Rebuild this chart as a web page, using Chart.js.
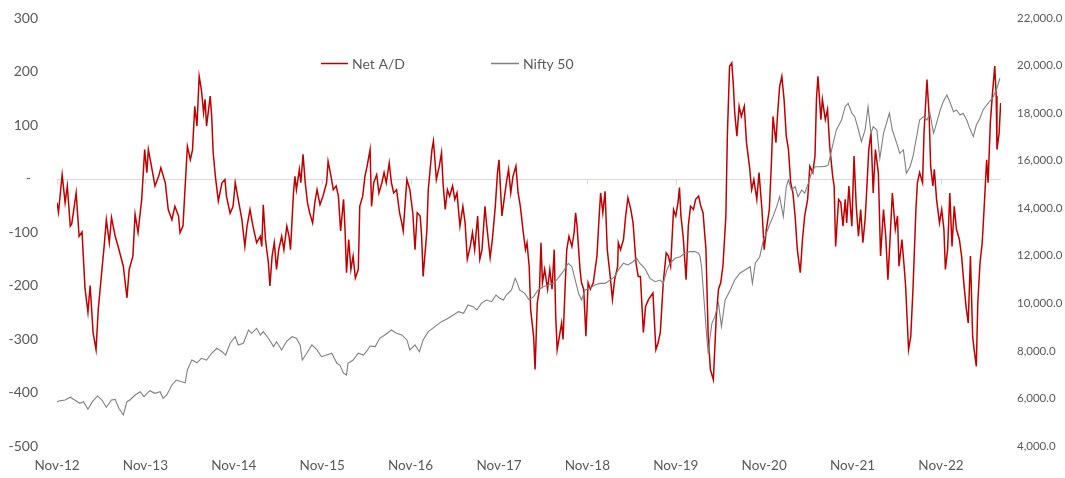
<!DOCTYPE html>
<html><head><meta charset="utf-8">
<script src="https://cdn.jsdelivr.net/npm/chart.js@4.4.1/dist/chart.umd.min.js"></script>
<style>html,body{margin:0;padding:0;background:#fff;}#wrap{width:1065px;height:478px;}</style>
</head><body><div id="wrap"><canvas id="c" width="1065" height="478"></canvas></div>
<script>
// x values: months since Nov-2012
const tickLabels = ['Nov-12','Nov-13','Nov-14','Nov-15','Nov-16','Nov-17','Nov-18','Nov-19','Nov-20','Nov-21','Nov-22'];

const adMonths = [
0.0,0.2,0.7,1.1,1.4,1.8,2.0,2.6,3.0,3.4,
3.8,4.2,4.5,4.9,5.3,5.6,6.1,6.4,6.7,7.1,
7.4,7.9,8.3,9.0,9.5,9.8,10.3,10.6,11.0,11.5,
11.9,12.2,12.4,12.9,13.3,13.8,14.1,14.7,15.1,15.6,
16.0,16.5,16.7,17.1,17.4,17.7,18.1,18.4,18.7,19.0,
19.3,19.6,19.9,20.1,20.3,20.8,21.0,21.2,21.5,21.9,
22.4,22.8,23.0,23.5,23.9,24.2,24.6,25.1,25.5,25.8,
26.2,26.6,27.1,27.6,27.8,28.0,28.3,28.7,28.9,29.2,
29.5,29.8,30.1,30.5,30.8,31.2,31.5,31.7,32.1,32.3,
32.5,32.9,33.1,33.4,33.7,34.0,34.3,34.7,35.0,35.3,
35.7,36.1,36.6,36.8,37.2,37.5,37.9,38.2,38.5,38.9,
39.1,39.3,39.6,39.9,40.2,40.5,40.9,41.1,41.5,41.8,
42.1,42.5,42.7,43.0,43.4,43.7,44.1,44.4,44.7,45.1,
45.4,45.7,46.1,46.5,46.8,47.0,47.3,47.5,47.9,48.3,
48.6,48.9,49.3,49.5,49.7,50.2,50.4,50.9,51.1,51.3,
51.5,51.9,52.2,52.4,52.7,53.0,53.3,53.7,54.0,54.3,
54.7,55.1,55.4,55.7,56.1,56.4,56.7,57.1,57.4,57.7,
58.1,58.3,58.8,59.1,59.5,59.8,60.0,60.4,60.7,61.0,
61.3,61.6,61.9,62.3,62.6,62.9,63.3,63.6,63.8,64.1,
64.3,64.7,64.9,65.2,65.5,65.7,65.9,66.2,66.6,66.9,
67.2,67.5,67.7,67.9,68.2,68.5,68.7,69.0,69.2,69.5,
69.9,70.2,70.4,70.6,71.0,71.2,71.5,71.8,72.1,72.4,
72.8,73.3,73.6,73.8,74.1,74.4,74.7,75.1,75.4,75.7,
76.1,76.2,76.5,76.9,77.2,77.5,77.9,78.2,78.6,78.9,
79.2,79.6,79.9,80.3,80.6,80.9,81.3,81.6,81.9,82.3,
82.7,83.0,83.3,83.7,84.0,84.3,84.5,84.7,85.0,85.4,
85.7,86.0,86.4,86.7,87.1,87.4,87.7,88.1,88.4,88.7,
89.1,89.5,89.8,90.1,90.4,90.8,91.0,91.3,91.6,91.8,
92.0,92.3,92.6,92.9,93.3,93.6,94.0,94.3,94.6,95.0,
95.3,95.7,96.0,96.3,96.7,97.0,97.2,97.6,97.8,98.1,
98.4,98.7,99.0,99.3,99.6,99.9,100.2,100.5,100.9,101.2,
101.5,101.9,102.2,102.6,102.9,103.1,103.3,103.7,103.9,104.3,
104.6,104.9,105.3,105.5,105.7,106.1,106.4,106.7,107.0,107.2,
107.5,107.9,108.2,108.5,108.8,109.1,109.4,109.7,109.9,110.2,
110.5,110.8,111.1,111.5,111.8,112.2,112.5,112.8,113.2,113.4,
113.8,114.1,114.3,114.7,115.0,115.2,115.6,115.9,116.2,116.6,
116.8,117.1,117.5,117.7,118.1,118.4,118.6,118.9,119.1,119.4,
119.8,120.1,120.4,120.6,120.9,121.2,121.5,121.8,122.1,122.5,
122.8,123.1,123.4,123.7,124.0,124.3,124.5,124.8,125.0,125.3,
125.6,125.9,126.2,126.4,126.7,127.0,127.3,127.5,127.6,127.9,
128.1];

const netAD = [
-45,-63,7,-45,-14,-89,-85,-27,-108,-100,
-205,-250,-200,-288,-320,-245,-170,-127,-77,-120,
-73,-108,-127,-164,-223,-170,-145,-67,-101,-39,
54,11,54,17,-14,4,20,-8,-58,-77,
-52,-70,-101,-89,-14,60,35,54,135,98,
191,166,123,148,98,154,116,48,4,-42,
-8,-2,-33,-65,-52,-8,-39,-77,-127,-89,
-58,-89,-120,-108,-127,-49,-114,-158,-201,-145,
-120,-170,-133,-108,-133,-89,-108,-133,-27,4,
-21,17,-8,45,-8,-45,-64,-83,-45,-21,
-49,-33,-8,32,4,-21,-14,-33,-98,-39,
-95,-176,-114,-170,-145,-186,-170,-52,-33,4,
23,54,-52,-8,7,-27,-8,11,-8,29,
-8,-27,-21,-64,-83,-98,-39,-2,-21,-64,
-133,-64,-70,-108,-183,-100,-21,54,70,35,
-2,23,48,-8,-58,-21,-33,-14,-39,-27,
-89,-52,-83,-151,-127,-101,-133,-70,-151,-133,
-52,-83,-148,-114,-52,11,35,-70,-39,-8,
17,-27,4,23,-27,-52,-101,-133,-120,-164,
-245,-295,-357,-232,-207,-120,-195,-170,-207,-170,
-207,-133,-257,-320,-295,-270,-301,-195,-133,-108,
-127,-101,-64,-89,-170,-195,-207,-295,-195,-207,
-195,-145,-70,-27,-64,-24,-133,-183,-226,-189,
-165,-120,-133,-114,-70,-36,-58,-83,-158,-183,
-183,-288,-239,-226,-220,-214,-320,-307,-288,-195,
-139,-145,-164,-58,-70,-45,-17,-70,-108,-189,
-89,-52,-58,-39,-33,-52,-64,-133,-295,-357,
-376,-257,-207,-195,-164,-70,79,210,216,179,
123,79,135,116,135,67,23,-21,-2,-39,
11,-58,-133,-95,-58,35,116,67,116,172,
191,148,79,54,-8,-27,-70,-133,-176,-114,
-70,-39,23,11,42,148,191,110,148,110,
129,60,4,-14,-127,-39,-45,-89,-39,-83,
-14,-89,42,-52,-108,-58,-120,-77,-27,54,
85,-27,54,11,-145,-58,-108,-189,-83,-27,
-95,-70,-164,-114,-164,-201,-320,-295,-207,-58,
-8,11,-8,85,185,116,23,-14,17,-39,
-83,-58,-95,-170,-133,-27,-127,-52,-95,-114,
-145,-195,-239,-270,-145,-295,-320,-351,-232,-158,
-120,-45,35,-8,104,160,210,154,54,85,
141];

const niftyMonths = [
0.0,0.2,1.1,1.8,2.4,3.1,3.6,4.2,4.8,5.5,
6.1,6.7,7.4,7.9,8.4,9.0,9.5,9.9,10.6,11.3,
11.8,12.6,13.3,14.0,14.4,14.9,15.6,16.2,16.9,17.4,
17.7,18.3,19.0,19.6,20.3,21.0,21.7,22.4,22.9,23.5,
24.2,24.6,25.3,26.0,26.4,27.1,27.6,28.0,28.7,29.4,
29.8,30.5,31.2,31.9,32.5,33.0,33.3,33.9,34.6,35.3,
35.9,36.6,37.3,38.0,38.4,38.9,39.3,39.5,40.2,40.9,
41.6,42.0,42.5,43.2,43.8,44.5,45.4,46.1,46.8,47.5,
47.9,48.6,49.2,49.7,50.4,51.3,52.2,53.1,53.8,54.5,
55.2,55.8,56.5,57.0,57.6,58.3,59.0,59.6,60.1,60.6,
61.0,61.7,62.2,62.5,62.8,63.5,64.1,64.7,65.3,66.0,
66.7,67.4,68.0,68.7,69.4,69.9,70.3,70.8,71.2,71.7,
72.3,73.0,73.7,74.4,75.1,75.7,76.2,76.9,77.5,78.2,
78.7,79.1,79.8,80.5,81.2,81.9,82.3,82.8,83.2,83.9,
84.6,85.2,85.9,86.6,87.1,87.3,87.5,87.7,88.2,88.4,
88.5,88.9,89.3,89.8,90.2,90.7,91.4,92.0,92.7,93.4,
94.1,94.4,94.8,95.4,95.9,96.3,96.8,97.2,97.7,98.1,
98.6,99.0,99.3,99.7,100.2,100.6,101.1,101.5,102.0,102.4,
102.9,103.6,104.3,104.7,105.2,105.8,106.5,107.0,107.4,107.9,
108.3,108.8,109.2,109.7,110.1,110.5,110.8,111.3,111.7,112.2,
112.6,113.0,113.4,114.0,114.4,114.9,115.3,115.8,116.2,116.7,
117.1,117.6,118.1,118.5,119.0,119.4,119.9,120.3,120.8,121.2,
121.7,122.1,122.6,123.0,123.5,123.9,124.4,124.8,125.3,125.7,
126.2,126.6,127.1,127.6,128.0];

const nifty = [
5860,5890,5935,6050,5935,5795,5865,5545,5865,6105,
5935,5625,5935,5960,5585,5305,5865,5935,6145,6285,
6075,6325,6215,6285,6005,6145,6565,6775,6705,6660,
7195,7615,7500,7690,7615,7900,8110,7965,7825,8320,
8595,8250,8320,8880,8740,8950,8665,8810,8530,8180,
8385,8040,8415,8595,8530,8250,7615,7900,8250,8040,
7755,7825,7900,7480,7405,7060,6985,7480,7615,7900,
7825,7965,8205,8180,8530,8670,8880,8740,8670,8460,
8040,8250,7965,8460,8810,9020,9230,9370,9510,9650,
9580,9930,9860,9720,10000,10140,10070,10350,10210,10140,
10350,10560,11050,10840,10560,10420,10140,10280,10560,10700,
10770,10840,11050,11330,11685,11540,11050,10420,10140,10560,
10630,10770,10840,10840,10980,11120,11405,11685,11615,11750,
11900,11685,11475,11050,10910,10980,10840,11405,11685,11895,
11960,12105,12175,12175,12105,11960,11540,10700,8600,7900,
8180,9160,9440,10000,9020,10140,10560,10980,11265,11405,
11540,10840,11685,11960,12665,12945,13365,13645,14065,14485,
13645,14910,15190,14770,14910,14485,14770,14630,15050,15470,
15745,15745,15760,15820,16520,17290,17710,18270,18415,17995,
17850,17290,16800,17290,18270,17150,17430,17290,16100,17150,
17575,17995,17290,16730,16310,16450,15470,15745,16170,17010,
17710,17850,17710,17995,17150,17575,18130,18480,18765,18480,
18060,18130,17920,17995,17710,17360,17010,17500,17780,18130,
18340,18480,18690,19045,19465];

const TEXT = '#595959';
const FONT = 'Lato, "Open Sans", sans-serif';

const fmtLeft = v => v === 0 ? '-' : String(v);
const fmtRight = v => v.toLocaleString('en-US', {minimumFractionDigits: 1, maximumFractionDigits: 1});

const zeroLine = {
  id: 'zeroLine',
  beforeDatasetsDraw(chart) {
    const {ctx, chartArea: a, scales} = chart;
    const y = Math.round(scales.yL.getPixelForValue(0)) + 0.5;
    ctx.save();
    ctx.strokeStyle = '#D9D9D9';
    ctx.lineWidth = 1;
    ctx.beginPath();
    ctx.moveTo(a.left, y); ctx.lineTo(a.right, y);
    scales.x.ticks.forEach(t => {
      const x = Math.round(scales.x.getPixelForValue(t.value)) + 0.5;
      ctx.moveTo(x, y); ctx.lineTo(x, y + 5);
    });
    ctx.stroke();
    ctx.restore();
  }
};

// y-axis tick labels, positioned at the scale's own tick pixels
const axisLabels = {
  id: 'axisLabels',
  afterDraw(chart) {
    const {ctx, scales, chartArea: a} = chart;
    ctx.save();
    ctx.fillStyle = TEXT;
    ctx.textBaseline = 'middle';
    ctx.font = '14px ' + FONT;
    ctx.textAlign = 'right';
    scales.yL.ticks.forEach(t => {
      const y = scales.yL.getPixelForValue(t.value);
      const x = t.value === 0 ? a.left - 26 : a.left - 19;
      ctx.fillText(fmtLeft(t.value), x, y);
    });
    ctx.font = '11.5px ' + FONT;
    ctx.textAlign = 'left';
    scales.yR.ticks.forEach(t => {
      const y = scales.yR.getPixelForValue(t.value);
      ctx.fillText(fmtRight(t.value), a.right + 16, y);
    });
    ctx.restore();
  }
};

const legendPlugin = {
  id: 'customLegend',
  afterDraw(chart) {
    const ctx = chart.ctx;
    const items = [
      {label: 'Net A/D', color: '#C00000', x0: 321, x1: 348, tx: 352},
      {label: 'Nifty 50', color: '#808080', x0: 491, x1: 519, tx: 523}
    ];
    const y = 63.5;
    ctx.save();
    ctx.font = '14px ' + FONT;
    ctx.textBaseline = 'middle';
    ctx.fillStyle = TEXT;
    items.forEach(it => {
      ctx.strokeStyle = it.color;
      ctx.lineWidth = 1.5;
      ctx.beginPath(); ctx.moveTo(it.x0, y); ctx.lineTo(it.x1, y); ctx.stroke();
      ctx.fillText(it.label, it.tx, y + 1);
    });
    ctx.restore();
  }
};

new Chart(document.getElementById('c'), {
  type: 'line',
  data: {
    datasets: [
      {
        label: 'Net A/D',
        data: adMonths.map((m, i) => ({x: m, y: netAD[i]})),
        yAxisID: 'yL',
        borderColor: '#C00000',
        borderWidth: 1.5,
        pointRadius: 0,
        tension: 0,
        order: 2
      },
      {
        label: 'Nifty 50',
        data: niftyMonths.map((m, i) => ({x: m, y: nifty[i]})),
        yAxisID: 'yR',
        borderColor: '#808080',
        borderWidth: 1.1,
        pointRadius: 0,
        tension: 0,
        order: 1
      }
    ]
  },
  options: {
    responsive: false,
    animation: false,
    devicePixelRatio: 1,
    layout: {padding: {top: 18, left: 0, right: 0, bottom: 0}},
    plugins: {legend: {display: false}, tooltip: {enabled: false}},
    scales: {
      x: {
        type: 'linear', min: 0, max: 128.15,
        grid: {display: false, drawTicks: false},
        border: {display: false},
        ticks: {
          stepSize: 12, includeBounds: false, autoSkip: false, maxRotation: 0,
          padding: 12, color: TEXT, font: {family: FONT, size: 13.5},
          callback: v => (v % 12 === 0 && tickLabels[v / 12]) ? tickLabels[v / 12] : ''
        },
        afterFit: s => { s.height = 32; }
      },
      yL: {
        type: 'linear', position: 'left', min: -500, max: 300,
        grid: {display: false, drawTicks: false},
        border: {display: false},
        ticks: {stepSize: 100, display: false},
        afterFit: s => { s.width = 57; }
      },
      yR: {
        type: 'linear', position: 'right', min: 4000, max: 22000,
        grid: {display: false, drawTicks: false},
        border: {display: false},
        ticks: {stepSize: 2000, display: false},
        afterFit: s => { s.width = 64; }
      }
    }
  },
  plugins: [zeroLine, axisLabels, legendPlugin]
});
</script>
</body></html>
